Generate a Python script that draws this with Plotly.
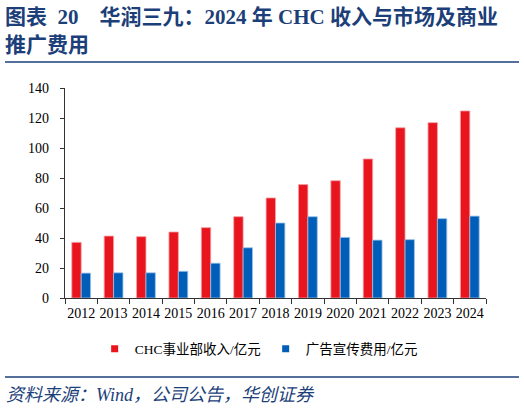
import plotly.graph_objects as go

years = ["2012", "2013", "2014", "2015", "2016", "2017", "2018",
         "2019", "2020", "2021", "2022", "2023", "2024"]
chc_revenue = [37.1, 41.3, 40.9, 44.0, 46.9, 54.2, 66.7,
               75.6, 78.2, 92.7, 113.5, 116.9, 124.7]
ad_expense = [16.6, 16.8, 16.8, 17.8, 23.2, 33.5, 50.0,
              54.2, 40.4, 38.6, 38.9, 52.9, 54.6]

NAVY = "#1C3F7A"
RED = "#E8141E"
BLUE = "#005EB8"
SERIF = "'Liberation Serif', 'Times New Roman', 'Noto Sans CJK SC', serif"

fig = go.Figure()
fig.add_trace(go.Bar(x=years, y=chc_revenue, name="CHC事业部收入/亿元", showlegend=False,
                     marker=dict(color=RED, line=dict(color="#F4A0A4", width=0.8))))
fig.add_trace(go.Bar(x=years, y=ad_expense, name="广告宣传费用/亿元", showlegend=False,
                     marker=dict(color=BLUE, line=dict(color="#9CC3E8", width=0.8))))

# legend entries with small square markers
for name, color in [("CHC事业部收入/亿元", RED), ("广告宣传费用/亿元", BLUE)]:
    fig.add_trace(go.Scatter(x=[None], y=[None], mode="markers", name=name,
                             marker=dict(symbol="square", size=7, color=color)))

fig.update_layout(
    width=524, height=412,
    margin=dict(l=65, r=38, t=88, b=114, autoexpand=False),
    paper_bgcolor="white", plot_bgcolor="white",
    barmode="group", bargap=0.42, bargroupgap=0,
    font=dict(family=SERIF, size=14, color="#000000"),
    showlegend=True,
    legend=dict(orientation="h", x=0.46, xanchor="center", y=-0.243, yanchor="middle",
                font=dict(size=13.5), itemwidth=30, tracegroupgap=0),
    xaxis=dict(showline=True, linecolor="#333333", linewidth=1.2,
               ticks="outside", ticklen=5, tickcolor="#333333", tickangle=0,
               tickson="boundaries", showgrid=False, automargin=False,
               ticklabelstandoff=2),
    yaxis=dict(range=[0, 140], dtick=20, showline=True, linecolor="#333333",
               linewidth=1.2, ticks="outside", ticklen=4, tickcolor="#333333",
               showgrid=False, zeroline=False, automargin=False,
               ticklabelstandoff=8),
)

fig.add_annotation(text="<b>图表  20    华润三九：2024 年 CHC 收入与市场及商业</b>",
                   xref="paper", yref="paper", x=-62/421, y=1 + 71/210,
                   xanchor="left", yanchor="middle", showarrow=False,
                   font=dict(family=SERIF, size=21, color=NAVY))
fig.add_annotation(text="<b>推广费用</b>",
                   xref="paper", yref="paper", x=-62/421, y=1 + 43/210,
                   xanchor="left", yanchor="middle", showarrow=False,
                   font=dict(family=SERIF, size=21, color=NAVY))
fig.add_annotation(text="<i>资料来源：Wind，公司公告，华创证券</i>",
                   xref="paper", yref="paper", x=-61/421, y=-97/210,
                   xanchor="left", yanchor="middle", showarrow=False,
                   font=dict(family=SERIF, size=18, color=NAVY))

fig.add_shape(type="line", xref="paper", yref="paper",
              x0=-60/421, x1=1 + 33/421, y0=1 + 26/210, y1=1 + 26/210,
              line=dict(color=NAVY, width=1.5))
fig.add_shape(type="line", xref="paper", yref="paper",
              x0=-60/421, x1=1 + 33/421, y0=-79/210, y1=-79/210,
              line=dict(color=NAVY, width=1.5))

# drop the default 8px body margin so the figure fills the window exactly
fig.write_html("out.html", config={"displayModeBar": False},
               post_script="document.body.style.margin='0';")
